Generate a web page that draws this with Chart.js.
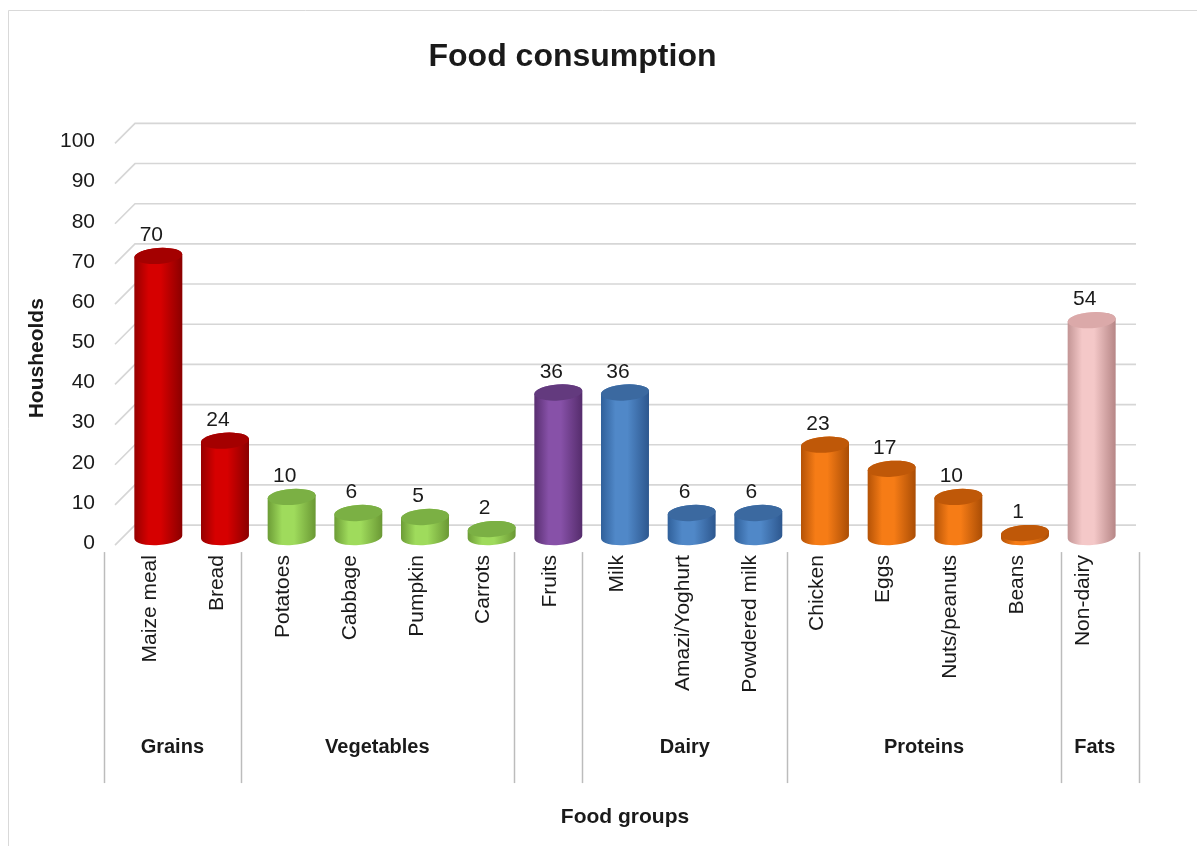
<!DOCTYPE html>
<html>
<head>
<meta charset="utf-8">
<title>Food consumption</title>
<script src="https://cdn.jsdelivr.net/npm/chart.js@4.4.1/dist/chart.umd.min.js"></script>
<style>
  html, body { margin: 0; padding: 0; background: #fff; }
  #wrap { width: 1197px; height: 846px; }
</style>
</head>
<body>
<div id="wrap"><canvas id="foodChart" width="1197" height="846"></canvas></div>
<script>
// households per food item
var categories = ['Maize meal', 'Bread', 'Potatoes', 'Cabbage', 'Pumpkin', 'Carrots', 'Fruits', 'Milk',
  'Amazi/Yoghurt', 'Powdered milk', 'Chicken', 'Eggs', 'Nuts/peanuts', 'Beans', 'Non-dairy'];
var households = [70, 24, 10, 6, 5, 2, 36, 36, 6, 6, 23, 17, 10, 1, 54];

// food groups, in order, and how many items each one holds
var groupNames = ['Grains', 'Vegetables', '', 'Dairy', 'Proteins', 'Fats'];
var groupSizes = [2, 4, 1, 3, 4, 1];

var yMin = 0, yMax = 100, yStep = 10;
var yTitle = 'Housheolds';

var FONT = '"Liberation Sans", Arial, sans-serif';
var TEXT = '#1a1a1a';

// cylinder shading per group: left edge, middle, right edge, lid
var groupColors = [
  ['#960000', '#d60000', '#8a0000', '#a40000'],
  ['#6c9c36', '#9fdb5c', '#6a9834', '#7bb044'],
  ['#582e70', '#8751a8', '#552c6c', '#633a7e'],
  ['#30609a', '#5088c8', '#2d578e', '#3b69a0'],
  ['#b45206', '#f67c16', '#aa4d05', '#bf5808'],
  ['#c39595', '#f4c8c8', '#b68686', '#dba9a9']
];

// group index of every item
var itemGroup = [];
groupSizes.forEach(function (n, g) {
  for (var i = 0; i < n; i++) itemGroup.push(g);
});

var frame = {
  id: 'frame',
  beforeDraw: function (chart) {
    var ctx = chart.ctx;
    ctx.save();
    ctx.fillStyle = '#fff';
    ctx.fillRect(0, 0, chart.width, chart.height);
    ctx.strokeStyle = '#d9d9d9';
    ctx.lineWidth = 1;
    ctx.beginPath();
    ctx.moveTo(8.5, chart.height);
    ctx.lineTo(8.5, 10.5);
    ctx.lineTo(chart.width, 10.5);
    ctx.stroke();
    ctx.restore();
  }
};

// gridlines on the back wall with the short slanted floor/side segment
var backGrid = {
  id: 'backGrid',
  beforeDatasetsDraw: function (chart) {
    var ctx = chart.ctx, ys = chart.scales.y, area = chart.chartArea;
    ctx.save();
    ctx.strokeStyle = '#d6d6d6';
    ctx.lineWidth = 1.6;
    ys.ticks.forEach(function (t) {
      var py = ys.getPixelForValue(t.value);
      ctx.beginPath();
      ctx.moveTo(area.left - 10, py + 8);
      ctx.lineTo(area.left + 10, py - 12);
      ctx.lineTo(area.right + 11, py - 12);
      ctx.stroke();
    });
    ctx.restore();
  }
};

// draws each bar as a shaded cylinder plus its value
var cylinders = {
  id: 'cylinders',
  afterDatasetsDraw: function (chart) {
    var ctx = chart.ctx;
    var meta = chart.getDatasetMeta(0);
    var ry = 8, tilt = -0.07;
    meta.data.forEach(function (bar, i) {
      var c = groupColors[itemGroup[i]];
      var rx = bar.width / 2;
      var left = bar.x - rx, right = bar.x + rx;
      var top = bar.y, base = bar.base;

      var grad = ctx.createLinearGradient(left, 0, right, 0);
      grad.addColorStop(0, c[0]);
      grad.addColorStop(0.3, c[1]);
      grad.addColorStop(0.55, c[1]);
      grad.addColorStop(1, c[2]);

      ctx.save();
      ctx.beginPath();
      ctx.moveTo(left, top);
      ctx.lineTo(left, base);
      ctx.ellipse(bar.x, base, rx, ry, tilt, Math.PI, 0, true);
      ctx.lineTo(right, top);
      ctx.ellipse(bar.x, top, rx, ry, tilt, 0, Math.PI, true);
      ctx.closePath();
      ctx.fillStyle = grad;
      ctx.fill();

      ctx.beginPath();
      ctx.ellipse(bar.x, top, rx, ry, tilt, 0, Math.PI * 2);
      ctx.fillStyle = c[3];
      ctx.fill();

      ctx.fillStyle = TEXT;
      ctx.font = '21px ' + FONT;
      ctx.textAlign = 'center';
      ctx.textBaseline = 'bottom';
      ctx.fillText(String(households[i]), bar.x - 7, top - ry - 2);
      ctx.restore();
    });
  }
};

// second row of the category axis: group names between separators,
// plus the value axis title which sits a little below the plot centre
var groupAxis = {
  id: 'groupAxis',
  afterDraw: function (chart) {
    var ctx = chart.ctx, xs = chart.scales.x, area = chart.chartArea;
    var step = (xs.right - xs.left) / categories.length;
    function front(px) { return xs.left - 21 + (px - xs.left) * 1.025; }

    var edges = [0], k = 0;
    groupSizes.forEach(function (n) { k += n; edges.push(k); });

    ctx.save();
    ctx.strokeStyle = '#bcbcbc';
    ctx.lineWidth = 1.5;
    edges.forEach(function (e, j) {
      var px = front(xs.left + e * step);
      if (j === edges.length - 1) px += 10;
      px = Math.round(px) + 0.5;
      ctx.beginPath();
      ctx.moveTo(px, area.bottom + 15);
      ctx.lineTo(px, area.bottom + 246);
      ctx.stroke();
    });

    ctx.fillStyle = TEXT;
    ctx.font = 'bold 20px ' + FONT;
    ctx.textAlign = 'center';
    ctx.textBaseline = 'middle';
    groupNames.forEach(function (name, g) {
      if (!name) return;
      var a = front(xs.left + edges[g] * step);
      var b = front(xs.left + edges[g + 1] * step);
      ctx.fillText(name, (a + b) / 2, area.bottom + 210);
    });

    ctx.translate(37, (area.top + area.bottom) / 2 + 22);
    ctx.rotate(-Math.PI / 2);
    ctx.font = 'bold 21px ' + FONT;
    ctx.fillText(yTitle, 0, 0);
    ctx.restore();
  }
};

new Chart(document.getElementById('foodChart').getContext('2d'), {
  type: 'bar',
  data: {
    labels: categories,
    datasets: [{
      label: 'Households',
      data: households,
      backgroundColor: 'rgba(0,0,0,0)',
      borderWidth: 0,
      categoryPercentage: 1,
      barPercentage: 0.72
    }]
  },
  options: {
    responsive: false,
    animation: false,
    layout: { padding: { left: 20, right: 72, top: 0, bottom: 12 } },
    plugins: {
      legend: { display: false },
      tooltip: { enabled: false },
      title: {
        display: true,
        text: 'Food consumption',
        color: TEXT,
        font: { family: FONT, size: 32, weight: 'bold', lineHeight: 1.2 },
        padding: { top: 38, bottom: 59 }
      }
    },
    scales: {
      x: {
        grid: { display: false, drawTicks: false },
        border: { display: false },
        ticks: {
          color: TEXT,
          font: { family: FONT, size: 21 },
          minRotation: 90,
          maxRotation: 90,
          autoSkip: false,
          padding: 18,
          labelOffset: -8
        },
        title: {
          display: true,
          text: 'Food groups',
          color: TEXT,
          font: { family: FONT, size: 21, weight: 'bold', lineHeight: 1.2 },
          padding: { top: 94, bottom: 4 }
        },
        afterFit: function (scale) {
          scale.paddingLeft = 0;
          scale.paddingRight = 0;
        }
      },
      y: {
        min: yMin,
        max: yMax,
        grid: { display: false, drawTicks: false },
        border: { display: false },
        ticks: {
          stepSize: yStep,
          color: TEXT,
          font: { family: FONT, size: 21 },
          padding: 30,
          labelOffset: 6
        },
        title: { display: false },
        afterFit: function (scale) {
          scale.width = 105;
        }
      }
    }
  },
  plugins: [frame, backGrid, cylinders, groupAxis]
});
</script>
</body>
</html>
